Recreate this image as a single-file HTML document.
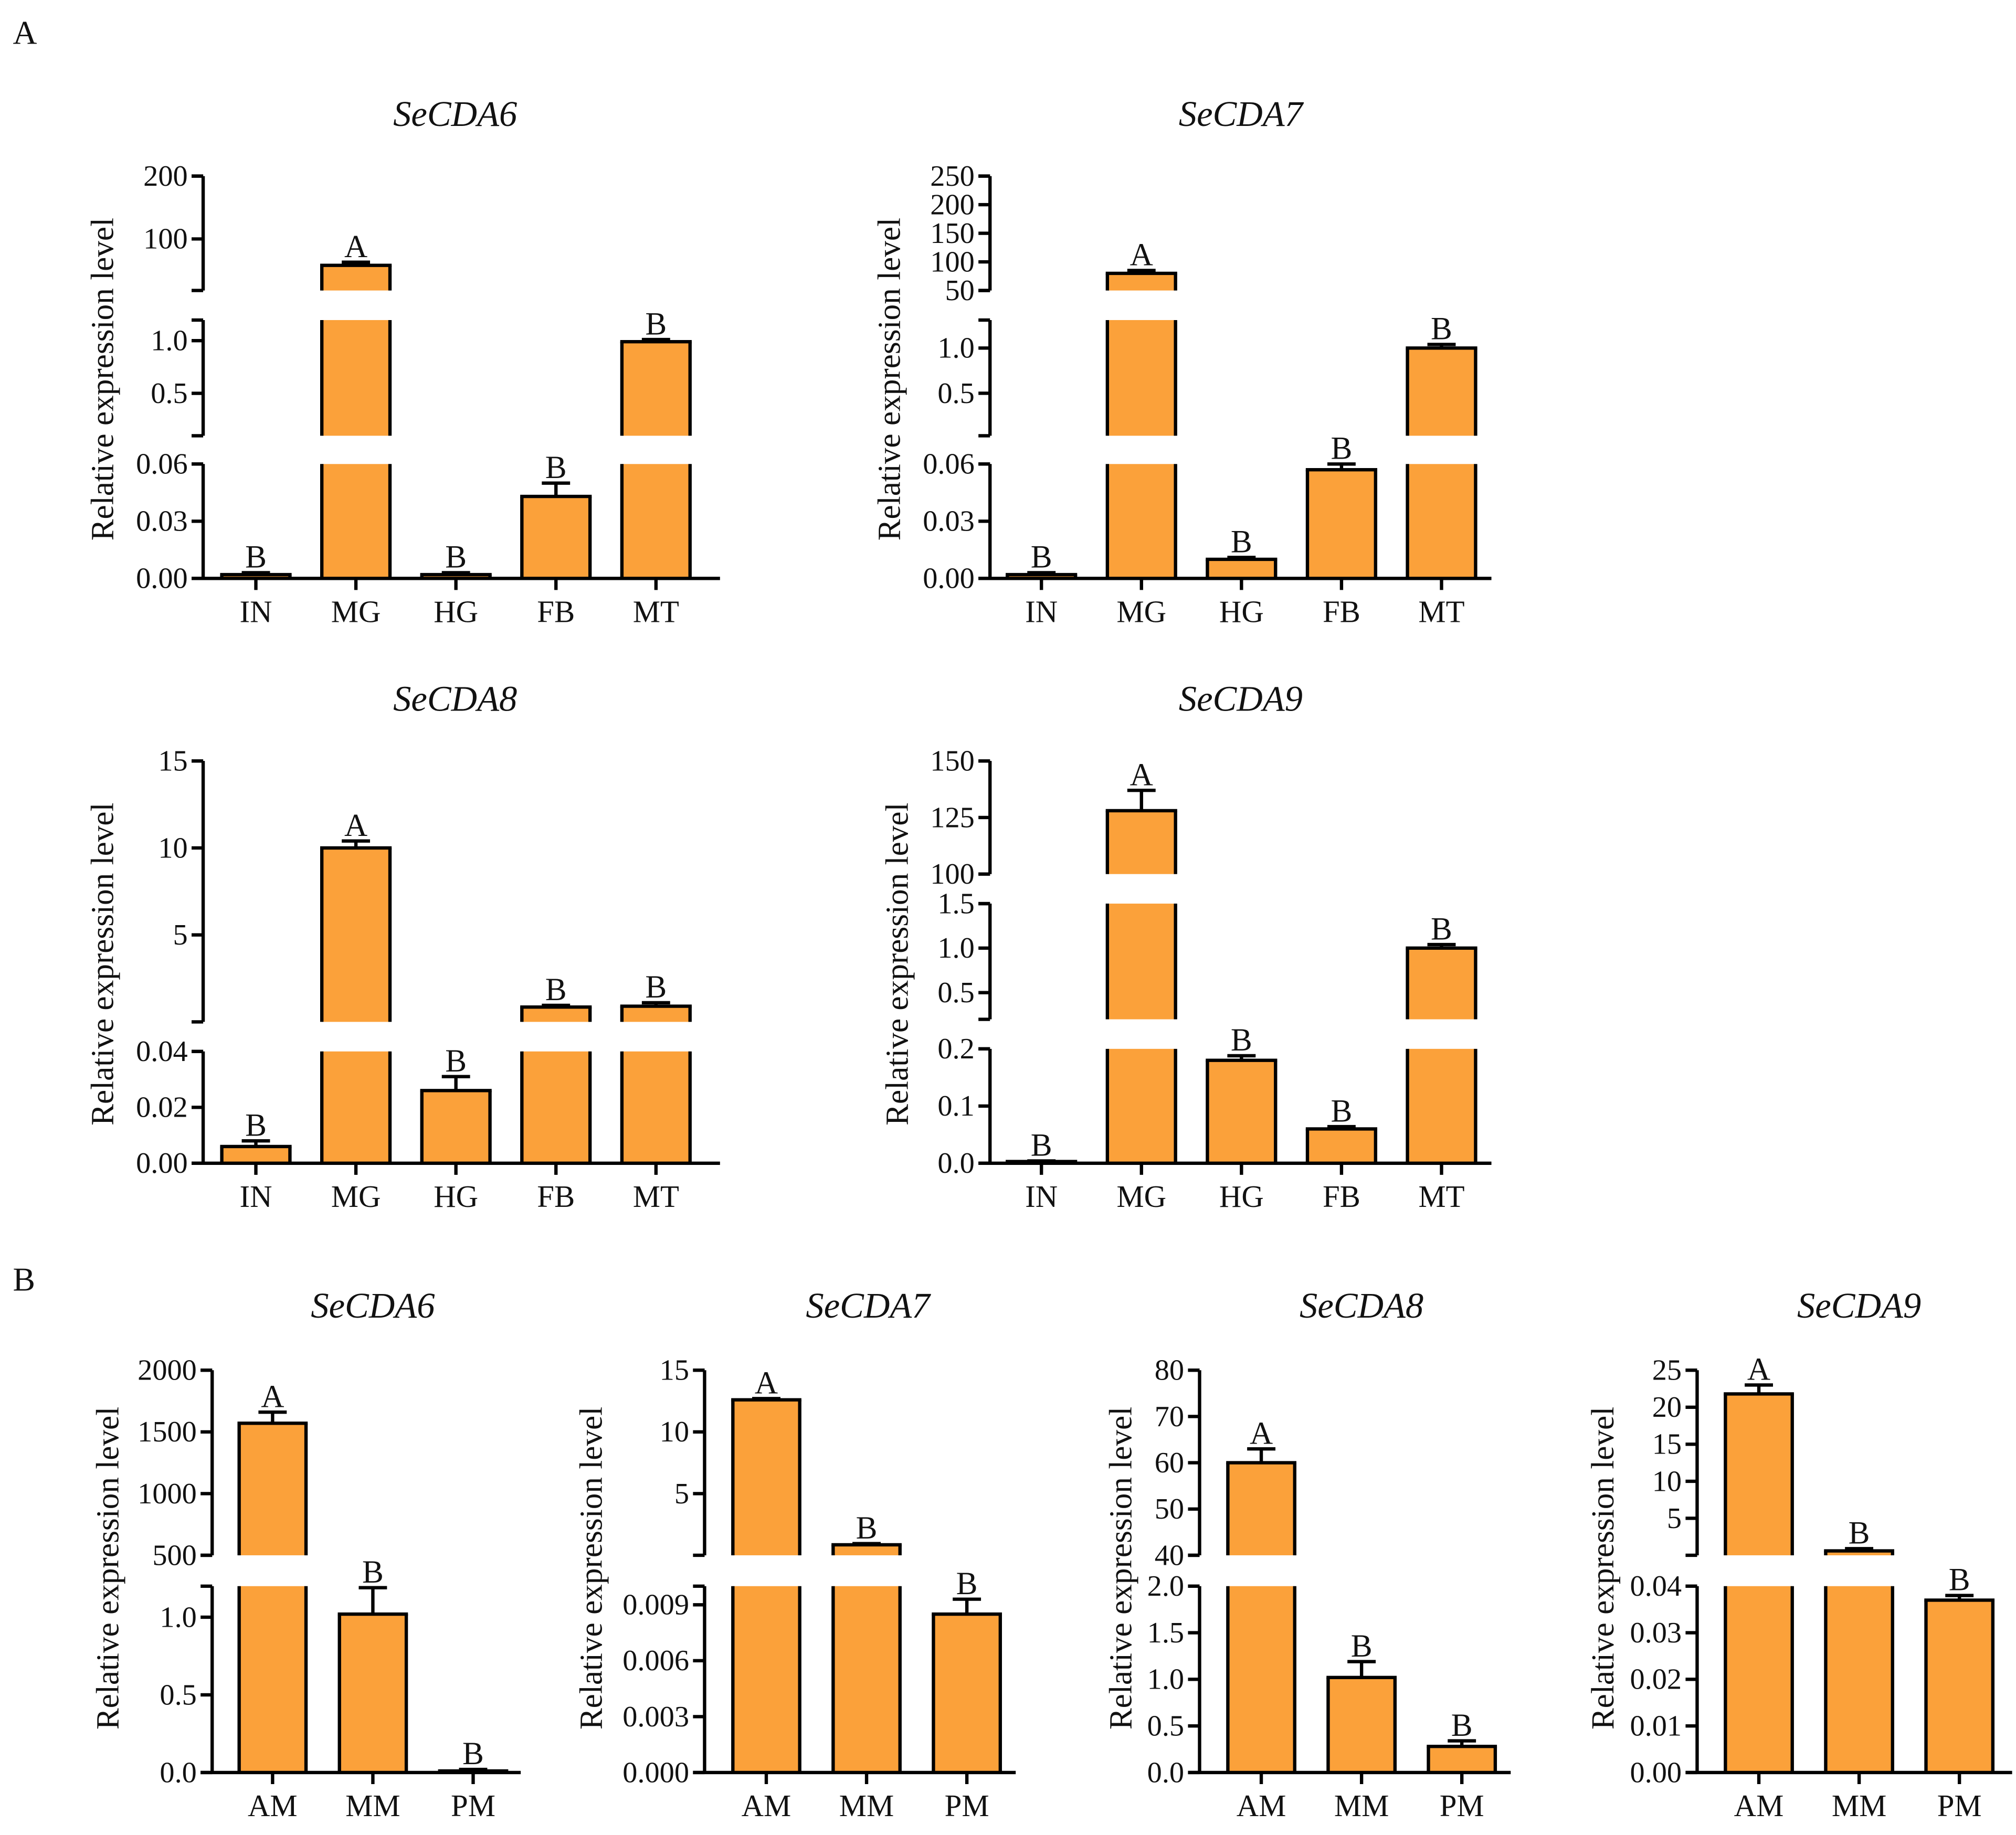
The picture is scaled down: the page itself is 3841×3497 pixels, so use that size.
<!DOCTYPE html>
<html><head><meta charset="utf-8"><style>
html,body{margin:0;padding:0;background:#fff}
svg{display:block}
text{font-family:"Liberation Serif",serif;fill:#111}
</style></head><body>
<svg id="fig" width="3841" height="3497" viewBox="0 0 1568 1427.6" xmlns="http://www.w3.org/2000/svg">
<text x="10" y="34" font-size="26">A</text>
<text x="10" y="1004" font-size="26">B</text>
</svg>
<script>
const catsA = ["IN","MG","HG","FB","MT"];
const catsB = ["AM","MM","PM"];
const lettersA6 = ["B","A","B","B","B"];
const valuesA6 = [0.002, 58, 0.002, 0.043, 0.99];
const errorsA6 = [0.001, 5, 0.001, 0.007, 0.02];
const valuesA7 = [0.002, 80, 0.01, 0.057, 1.0];
const errorsA7 = [0.001, 5, 0.001, 0.003, 0.04];
const lettersA7 = ["B","A","B","B","B"];
const valuesA8 = [0.006, 10, 0.026, 0.85, 0.9];
const errorsA8 = [0.002, 0.4, 0.005, 0.1, 0.2];
const lettersA8 = ["B","A","B","B","B"];
const valuesA9 = [0.003, 128, 0.18, 0.06, 1.0];
const errorsA9 = [0.001, 9, 0.008, 0.004, 0.04];
const lettersA9 = ["B","A","B","B","B"];
const valuesB6 = [1570, 1.02, 0.01];
const errorsB6 = [90, 0.17, 0.01];
const valuesB7 = [12.6, 0.85, 0.0085];
const errorsB7 = [0.1, 0.1, 0.0008];
const valuesB8 = [60, 1.02, 0.28];
const errorsB8 = [3, 0.17, 0.06];
const valuesB9 = [21.8, 0.6, 0.037];
const errorsB9 = [1.2, 0.3, 0.001];
const lettersB = ["A","B","B"];
const ticksA6 = [[0,0.03,0.06],[0.5,1.0],[100,200]];
const labelsA6 = [["0.00","0.03","0.06"],["0.5","1.0"],["100","200"]];
const ticksA7 = [[0,0.03,0.06],[0.5,1.0],[50,100,150,200,250]];
const labelsA7 = [["0.00","0.03","0.06"],["0.5","1.0"],["50","100","150","200","250"]];
const ticksA8 = [[0,0.02,0.04],[5,10,15]];
const labelsA8 = [["0.00","0.02","0.04"],["5","10","15"]];
const ticksA9 = [[0,0.1,0.2],[0.5,1.0,1.5],[100,125,150]];
const labelsA9 = [["0.0","0.1","0.2"],["0.5","1.0","1.5"],["100","125","150"]];
const ticksB6 = [[0,0.5,1.0],[500,1000,1500,2000]];
const labelsB6 = [["0.0","0.5","1.0"],["500","1000","1500","2000"]];
const ticksB7 = [[0,0.003,0.006,0.009],[5,10,15]];
const labelsB7 = [["0.000","0.003","0.006","0.009"],["5","10","15"]];
const ticksB8 = [[0,0.5,1.0,1.5,2.0],[40,50,60,70,80]];
const labelsB8 = [["0.0","0.5","1.0","1.5","2.0"],["40","50","60","70","80"]];
const ticksB9 = [[0,0.01,0.02,0.03,0.04],[5,10,15,20,25]];
const labelsB9 = [["0.00","0.01","0.02","0.03","0.04"],["5","10","15","20","25"]];

const NS="http://www.w3.org/2000/svg";
const svg=document.getElementById('fig');
function mk(tag,attrs,parent){const e=document.createElementNS(NS,tag);for(const k in attrs)e.setAttribute(k,attrs[k]);(parent||svg).appendChild(e);return e;}
const FILL="#FBA13A";

function chart(cfg){
  const g=mk('g',{});
  
  
  const ax=cfg.axisX, base=cfg.base;
  const t=mk('text',{x:cfg.titleX,y:cfg.titleY,'font-size':28,'font-style':'italic','text-anchor':'middle'},g);
  t.textContent=cfg.title;
  
  
  const yl=mk('text',{x:0,y:0,'font-size':25,'text-anchor':'middle',transform:`translate(${cfg.ylX},${cfg.ylY}) rotate(-90)`},g);
  yl.textContent="Relative expression level";
  
  
  cfg.segs.forEach((s,si)=>{
    const sc=v=>s.p0+(v-s.min)/(s.max-s.min)*(s.p1-s.p0);
    s.sc=sc;
    const al=mk('line',{x1:ax,x2:ax,y1:s.p0,y2:s.p1,stroke:'#000','stroke-width':2.6},g);
    
    
    [s.p0,s.p1].forEach(py=>{ if(si>0||py!==s.p0) mk('line',{x1:ax-9,x2:ax,y1:py,y2:py,stroke:'#000','stroke-width':2.6},g); });
    cfg.ticks[si].forEach((tv,ti)=>{
      const py=sc(tv);
      mk('line',{x1:ax-9,x2:ax,y1:py,y2:py,stroke:'#000','stroke-width':2.6},g);
      const tl=mk('text',{x:ax-12,y:py+7.5,'font-size':23,'text-anchor':'end'},g);
      tl.textContent=cfg.labels[si][ti];
      
      
    });
  });
  cfg.cats.forEach((c,i)=>{
    const cx=cfg.c0+i*cfg.step, w=cfg.bw, v=cfg.values[i], e=cfg.errors[i];
    let topY=null;
    cfg.segs.forEach((s,si)=>{
      if(si>0 && v<=cfg.segs[si-1].max) return;
      const bot=si===0?base:s.p0;
      const inSeg=v<=s.max;
      const top=inSeg?s.sc(v):s.p1;
      const r=mk('rect',{x:cx-w/2,y:top,width:w,height:Math.max(0,bot-top),fill:FILL},g);
      
      
      mk('line',{x1:cx-w/2,x2:cx-w/2,y1:top,y2:bot,stroke:'#000','stroke-width':2.6},g);
      mk('line',{x1:cx+w/2,x2:cx+w/2,y1:top,y2:bot,stroke:'#000','stroke-width':2.6},g);
      if(inSeg){
        mk('line',{x1:cx-w/2-1.3,x2:cx+w/2+1.3,y1:top,y2:top,stroke:'#000','stroke-width':2.6},g);
        const ey=s.sc(v+e);
        mk('line',{x1:cx,x2:cx,y1:top,y2:ey,stroke:'#000','stroke-width':2.6},g);
        mk('line',{x1:cx-11,x2:cx+11,y1:ey,y2:ey,stroke:'#000','stroke-width':2.6},g);
        topY=ey;
      }
    });
    const lt=mk('text',{x:cx,y:topY-4,'font-size':25,'text-anchor':'middle'},g);
    lt.textContent=cfg.letters[i];
    
    
    mk('line',{x1:cx,x2:cx,y1:base,y2:base+9,stroke:'#000','stroke-width':2.6},g);
    const xl=mk('text',{x:cx,y:base+34,'font-size':24,'text-anchor':'middle'},g);
    xl.textContent=c;
    
    
  });
  const xa=mk('line',{x1:ax-9,x2:cfg.axisEnd,y1:base,y2:base,stroke:'#000','stroke-width':2.6},g);
  
  
}

chart({name:'chart-a-secda6',title:'SeCDA6',titleX:354,titleY:98,ylX:88,ylY:295,axisX:158,base:450,axisEnd:560,
 cats:catsA,c0:199,step:77.8,bw:53,values:valuesA6,errors:errorsA6,letters:lettersA6,ticks:ticksA6,labels:labelsA6,
 segs:[{p0:450,p1:361,min:0,max:0.06},{p0:339,p1:249,min:0.098,max:1.195},{p0:226,p1:137,min:18,max:200}]});
chart({name:'chart-a-secda7',title:'SeCDA7',titleX:965,titleY:98,ylX:700,ylY:295,axisX:770,base:450,axisEnd:1160,
 cats:catsA,c0:810,step:77.8,bw:53,values:valuesA7,errors:errorsA7,letters:lettersA7,ticks:ticksA7,labels:labelsA7,
 segs:[{p0:450,p1:361,min:0,max:0.06},{p0:339,p1:249,min:0.03,max:1.31},{p0:226,p1:137,min:50,max:250}]});
chart({name:'chart-a-secda8',title:'SeCDA8',titleX:354,titleY:553,ylX:88,ylY:750,axisX:158,base:905,axisEnd:560,
 cats:catsA,c0:199,step:77.8,bw:53,values:valuesA8,errors:errorsA8,letters:lettersA8,ticks:ticksA8,labels:labelsA8,
 segs:[{p0:905,p1:818,min:0,max:0.04},{p0:795,p1:592,min:0,max:15}]});
chart({name:'chart-a-secda9',title:'SeCDA9',titleX:965,titleY:553,ylX:706,ylY:750,axisX:770,base:905,axisEnd:1160,
 cats:catsA,c0:810,step:77.8,bw:53,values:valuesA9,errors:errorsA9,letters:lettersA9,ticks:ticksA9,labels:labelsA9,
 segs:[{p0:905,p1:816,min:0,max:0.2},{p0:793,p1:703,min:0.2,max:1.5},{p0:680,p1:592,min:100,max:150}]});
chart({name:'chart-b-secda6',title:'SeCDA6',titleX:290,titleY:1025,ylX:92,ylY:1220,axisX:165,base:1379,axisEnd:405,
 cats:catsB,c0:212,step:78,bw:52,values:valuesB6,errors:errorsB6,letters:lettersB,ticks:ticksB6,labels:labelsB6,
 segs:[{p0:1379,p1:1234,min:0,max:1.2},{p0:1210,p1:1066,min:500,max:2000}]});
chart({name:'chart-b-secda7',title:'SeCDA7',titleX:675,titleY:1025,ylX:468,ylY:1220,axisX:548,base:1379,axisEnd:790,
 cats:catsB,c0:596,step:78,bw:52,values:valuesB7,errors:errorsB7,letters:lettersB,ticks:ticksB7,labels:labelsB7,
 segs:[{p0:1379,p1:1234,min:0,max:0.01},{p0:1210,p1:1066,min:0,max:15}]});
chart({name:'chart-b-secda8',title:'SeCDA8',titleX:1059,titleY:1025,ylX:880,ylY:1220,axisX:933,base:1379,axisEnd:1175,
 cats:catsB,c0:981,step:78,bw:52,values:valuesB8,errors:errorsB8,letters:lettersB,ticks:ticksB8,labels:labelsB8,
 segs:[{p0:1379,p1:1234,min:0,max:2.0},{p0:1210,p1:1066,min:40,max:80}]});
chart({name:'chart-b-secda9',title:'SeCDA9',titleX:1446,titleY:1025,ylX:1255,ylY:1220,axisX:1320,base:1379,axisEnd:1565,
 cats:catsB,c0:1368,step:78,bw:52,values:valuesB9,errors:errorsB9,letters:lettersB,ticks:ticksB9,labels:labelsB9,
 segs:[{p0:1379,p1:1234,min:0,max:0.04},{p0:1210,p1:1066,min:0,max:25}]});
</script>
</body></html>
